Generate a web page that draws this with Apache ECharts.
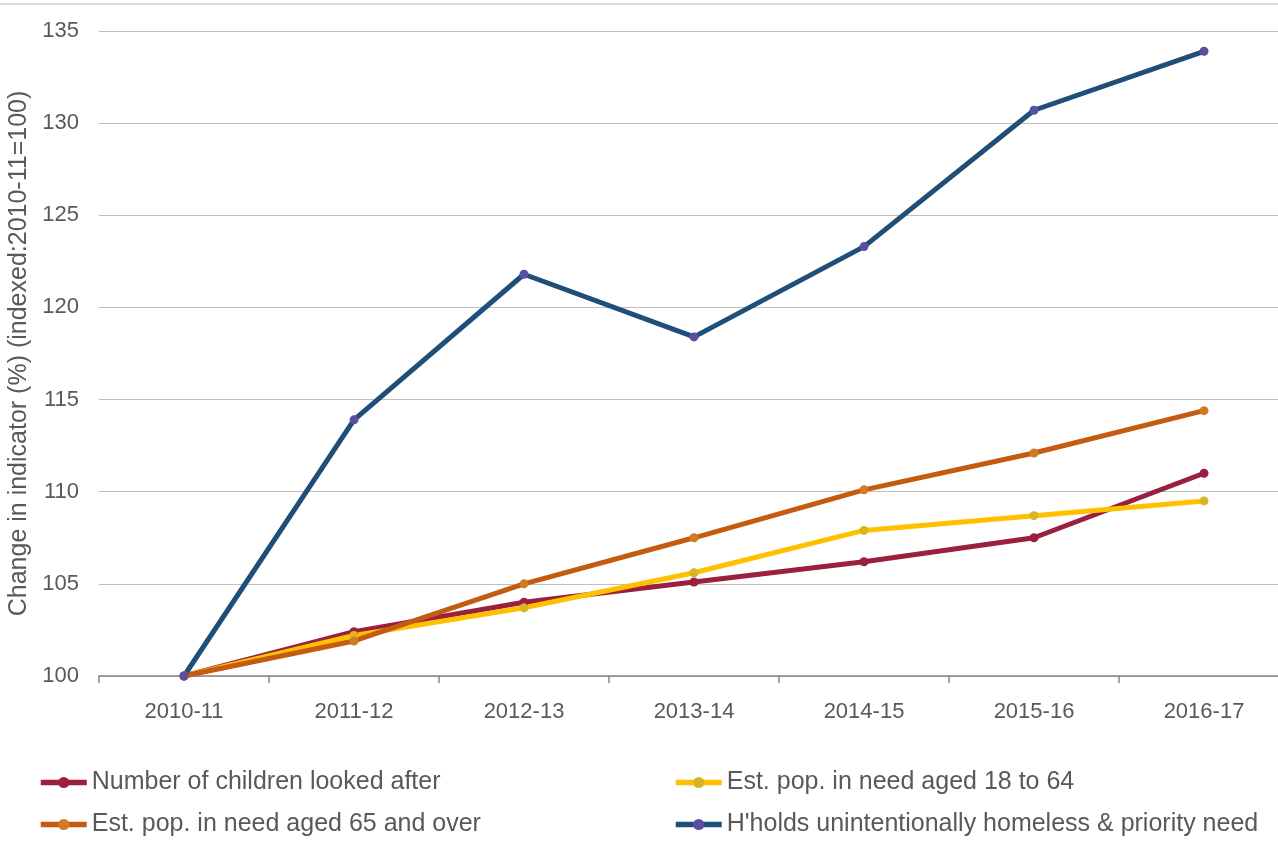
<!DOCTYPE html>
<html>
<head>
<meta charset="utf-8">
<script src="https://cdn.jsdelivr.net/npm/echarts@6/dist/echarts.min.js"></script>
<style>
html,body{margin:0;padding:0;background:#fff;overflow:hidden;width:1278px;height:860px;}
#chart{width:1290px;height:860px;}
</style>
</head>
<body>
<div id="chart"></div>
<script>
const categories = ['2010-11','2011-12','2012-13','2013-14','2014-15','2015-16','2016-17'];
const childrenLookedAfter = [100, 102.4, 104.0, 105.1, 106.2, 107.5, 111.0];
const pop18to64 = [100, 102.2, 103.7, 105.6, 107.9, 108.7, 109.5];
const pop65over = [100, 101.9, 105.0, 107.5, 110.1, 112.1, 114.4];
const homeless = [100, 113.9, 121.8, 118.4, 123.3, 130.7, 133.9];
const seriesNames = ['Number of children looked after','Est. pop. in need aged 18 to 64','Est. pop. in need aged 65 and over',"H'holds unintentionally homeless & priority need"];
const yTicks = {min:100, max:135, interval:5};

const FONT = '"Liberation Sans", Arial, sans-serif';
const TXT = '#595959';

function mk(name, data, lineColor, dotColor){
  return {
    name, type:'line', data,
    symbol:'circle', symbolSize:9,
    lineStyle:{color:lineColor, width:5},
    itemStyle:{color:dotColor},
    emphasis:{disabled:true},
    animation:false
  };
}
function lg(name, left, top){
  return {
    data:[name], left, top, itemWidth:46, itemHeight:14,
    lineStyle:{width:5.5},
    textStyle:{fontFamily:FONT, fontSize:25, color:TXT},
    padding:0
  };
}

const chart = echarts.init(document.getElementById('chart'), null, {renderer:'canvas'});
chart.setOption({
  backgroundColor:'#fff',
  animation:false,
  graphic:[{type:'line', shape:{x1:0,y1:4,x2:1290,y2:4}, style:{stroke:'#D9D9D9', lineWidth:2}}],
  grid:{left:99, top:31, right:1, bottom:184, containLabel:false, outerBoundsMode:'none'},
  legend:[
    lg(seriesNames[0], 38, 770),
    lg(seriesNames[1], 673, 770),
    lg(seriesNames[2], 38, 812),
    lg(seriesNames[3], 673, 812)
  ],
  xAxis:{
    type:'category', data:categories, boundaryGap:true,
    axisLine:{lineStyle:{color:'#868686', width:1.5}},
    axisTick:{show:true, length:7, lineStyle:{color:'#868686', width:1.5}},
    axisLabel:{fontFamily:FONT, fontSize:22, color:TXT, margin:25},
    splitLine:{show:false}
  },
  yAxis:{
    type:'value', min:yTicks.min, max:yTicks.max, interval:yTicks.interval,
    name:'Change in indicator (%) (indexed:2010-11=100)',
    nameLocation:'middle', nameGap:54, nameRotate:90,
    nameTextStyle:{fontFamily:FONT, fontSize:25, color:TXT},
    axisLine:{show:false}, axisTick:{show:false},
    axisLabel:{fontFamily:FONT, fontSize:22, color:TXT, margin:20},
    splitLine:{lineStyle:{color:'#BFBFBF', width:1.2}}
  },
  series:[
    mk(seriesNames[0], childrenLookedAfter, '#9B1F3F', '#9B1F3F'),
    mk(seriesNames[1], pop18to64, '#FFC000', '#D9B520'),
    mk(seriesNames[2], pop65over, '#C55A11', '#D07C24'),
    mk(seriesNames[3], homeless, '#1F4E79', '#5A4FA0')
  ]
});
</script>
</body>
</html>
